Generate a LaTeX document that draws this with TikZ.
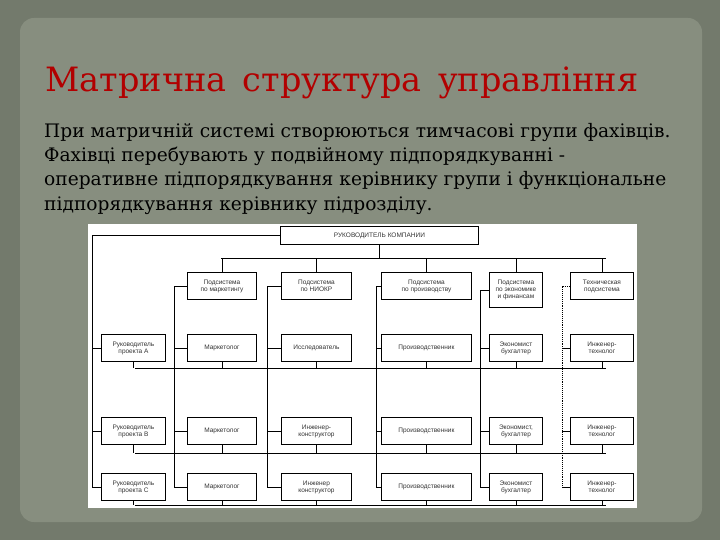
\documentclass[tikz,border=0pt]{standalone}
\usepackage{fontspec}
\setmainfont{DejaVu Serif}
\newfontfamily\dsans{Liberation Sans}
\begin{document}
\begin{tikzpicture}[x=1pt,y=-1pt,
  bx/.style={draw=black,fill=white,line width=0.9pt,inner sep=1pt,font=\dsans\fontsize{6.5}{7}\selectfont,align=center,anchor=north west,text=black!80},
  ln/.style={line width=0.9pt,black}]
\useasboundingbox (0,0) rectangle (720,540);
\definecolor{outerbg}{HTML}{737A6C}
\definecolor{innerbg}{HTML}{878E7F}
\fill[outerbg] (0,0) rectangle (720,540);
\fill[innerbg, rounded corners=14pt] (20,18) rectangle (702,522);
\node[anchor=base west,text=red!70!black,font=\fontsize{33.5}{35}\selectfont] (title) at (42,92) {Матрична\, структура\, управління};
\node[anchor=north west,align=left,font=\fontsize{18.6}{24.3}\selectfont,inner sep=0pt] (body) at (44,123)
{При матричній системі створюються тимчасові групи фахівців.\\Фахівці перебувають у подвійному підпорядкуванні -\\оперативне підпорядкування керівнику групи і функціональне\\підпорядкування керівнику підрозділу.};
\fill[white] (88,224) rectangle (637,508);
% boxes
\node[bx,minimum width=198pt,minimum height=18pt] (top) at (280,226) {РУКОВОДИТЕЛЬ КОМПАНИИ};
\def\sh{27pt}
\node[bx,minimum width=69pt,minimum height=\sh] (s1) at (187,272) {Подсистема\\по маркетингу};
\node[bx,minimum width=70pt,minimum height=\sh] (s2) at (281,272) {Подсистема\\по НИОКР};
\node[bx,minimum width=90pt,minimum height=\sh] (s3) at (381,272) {Подсистема\\по производству};
\node[bx,minimum width=53pt,minimum height=35pt] (s4) at (489,272) {Подсистема\\по экономике\\и финансам};
\node[bx,minimum width=63pt,minimum height=\sh] (s5) at (570,272) {Техническая\\подсистема};
\foreach \r/\y/\a/\b/\c/\d/\e/\f in {
 A/334/{Руководитель\\проекта А}/Маркетолог/Исследователь/Производственник/{Экономист\\бухгалтер}/{Инженер-\\технолог},
 B/417/{Руководитель\\проекта В}/Маркетолог/{Инженер-\\конструктор}/Производственник/{Экономист,\\бухгалтер}/{Инженер-\\технолог},
 C/473/{Руководитель\\проекта С}/Маркетолог/{Инженер\\конструктор}/Производственник/{Экономист\\бухгалтер}/{Инженер-\\технолог}}{
  \node[bx,minimum width=64pt,minimum height=\sh] (\r0) at (101,\y) {\a};
  \node[bx,minimum width=69pt,minimum height=\sh] (\r1) at (187,\y) {\b};
  \node[bx,minimum width=70pt,minimum height=\sh] (\r2) at (281,\y) {\c};
  \node[bx,minimum width=90pt,minimum height=\sh] (\r3) at (381,\y) {\d};
  \node[bx,minimum width=53pt,minimum height=\sh] (\r4) at (489,\y) {\e};
  \node[bx,minimum width=63pt,minimum height=\sh] (\r5) at (570,\y) {\f};
}
% top connections
\coordinate (tl) at (221,258); \coordinate (tr) at (606,258);
\draw[ln] (top.south) -- (top.south |- tl);
\draw[ln] (tl) -- (tr);
\foreach \i in {1,...,5}{\draw[ln] (s\i.north |- tl) -- (s\i.north);}
% left vertical
\coordinate (lv) at (92,235);
\draw[ln] (top.west |- lv) -- (lv) -- (lv |- C0.west);
\foreach \r in {A,B,C}{\draw[ln] (lv |- \r0.west) -- (\r0.west);}
% column verticals
\foreach \i/\x in {1/174,2/267,3/376,4/480,5/562}{
  \coordinate (c\i) at (\x,0);
  \ifnum\i=5 \def\st{densely dotted}\else\def\st{solid}\fi
  \draw[ln,\st] (s\i.west) -- (c\i |- s\i.west) -- (c\i |- C\i.west);
  \foreach \r in {A,B,C}{\draw[ln] (c\i |- \r\i.west) -- (\r\i.west);}
}
% row lines
\foreach \r/\yy in {A/368,B/453,C/505}{
  \coordinate (rl\r) at (135,\yy); \coordinate (rr\r) at (606,\yy);
  \draw[ln] (rl\r) -- (rr\r);
  \foreach \i in {0,...,5}{\draw[ln] (\r\i.south) -- (\r\i.south |- rl\r);}
}
\end{tikzpicture}
\end{document}
